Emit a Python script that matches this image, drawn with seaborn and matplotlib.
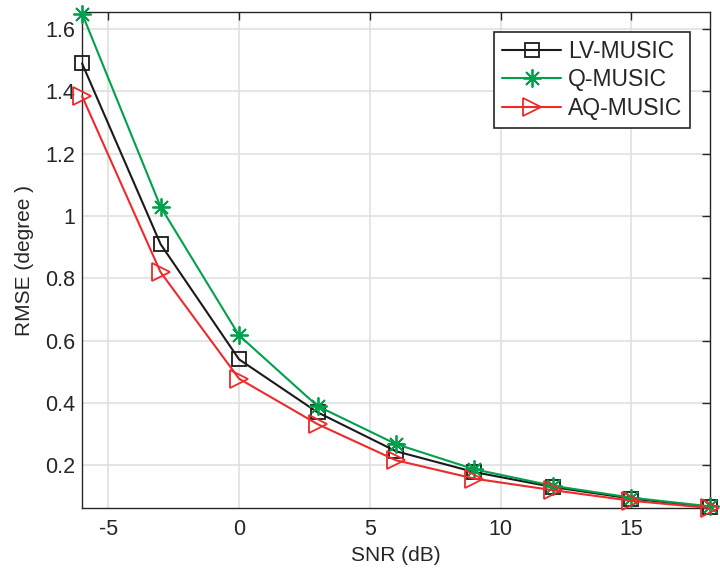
import numpy as np
import pandas as pd
import matplotlib
matplotlib.use("Agg")
import matplotlib.pyplot as plt
import seaborn as sns

# ── Données ──────────────────────────────────────────────────────────────────
snr = [-6, -3, 0, 3, 6, 9, 12, 15, 18]
lv_music = [1.49, 0.91, 0.54, 0.37, 0.245, 0.178, 0.130, 0.093, 0.066]
q_music = [1.65, 1.03, 0.617, 0.39, 0.268, 0.187, 0.134, 0.096, 0.068]
aq_music = [1.385, 0.82, 0.478, 0.332, 0.216, 0.157, 0.120, 0.086, 0.063]

series = ["LV-MUSIC", "Q-MUSIC", "AQ-MUSIC"]
values = [lv_music, q_music, aq_music]
colors = {"LV-MUSIC": "#1a1a1a", "Q-MUSIC": "#00a14b", "AQ-MUSIC": "#ee2a2a"}
markers = {"LV-MUSIC": "s", "Q-MUSIC": (8, 2, 0), "AQ-MUSIC": ">"}
msizes = {"LV-MUSIC": 9.5, "Q-MUSIC": 13, "AQ-MUSIC": 13}

df = pd.concat([pd.DataFrame({"SNR": snr, "RMSE": v, "method": s})
                for s, v in zip(series, values)], ignore_index=True)

sns.set_style("white")
plt.rcParams["font.family"] = ["Liberation Sans", "DejaVu Sans"]
plt.rcParams["axes.unicode_minus"] = False

fig = plt.figure(figsize=(7.2, 5.73), dpi=100)
ax = fig.add_axes([0.114, 0.113, 0.872, 0.866])

for s in series:
    sub = df[df["method"] == s]
    sns.lineplot(data=sub, x="SNR", y="RMSE", ax=ax, color=colors[s],
                 marker=markers[s], markersize=msizes[s], mfc="none",
                 mec=colors[s], mew=1.3, lw=1.5, label=s, clip_on=False,
                 zorder=3)

ax.set_xlim(-6, 18)
ax.set_ylim(0.062, 1.655)
ax.set_xticks([-5, 0, 5, 10, 15])
ax.set_yticks([0.2, 0.4, 0.6, 0.8, 1.0, 1.2, 1.4, 1.6])
ax.set_yticklabels(["0.2", "0.4", "0.6", "0.8", "1", "1.2", "1.4", "1.6"])
ax.grid(True, color="#e0e0e0", lw=1.2)
ax.set_axisbelow(True)

ax.tick_params(direction="in", length=6, width=1, colors="#262626",
               labelsize=15.5, top=True, right=True, labelcolor="#262626",
               pad=5)
ax.tick_params(axis="x", pad=8)
for sp in ax.spines.values():
    sp.set_visible(True)
    sp.set_color("#262626")
    sp.set_linewidth(1)

ax.set_xlabel("SNR (dB)", fontsize=15, color="#262626", labelpad=4)
ax.set_ylabel("RMSE (degree )", fontsize=15, color="#262626", labelpad=8)

leg = ax.legend(loc="upper right", fontsize=16.5, fancybox=False, framealpha=1,
                edgecolor="#262626", handlelength=2.6, borderaxespad=0.85,
                handletextpad=0.3, labelspacing=0.25, borderpad=0.35)
leg.get_frame().set_linewidth(1.2)

fig.savefig("out.png", dpi=100)
plt.close()
